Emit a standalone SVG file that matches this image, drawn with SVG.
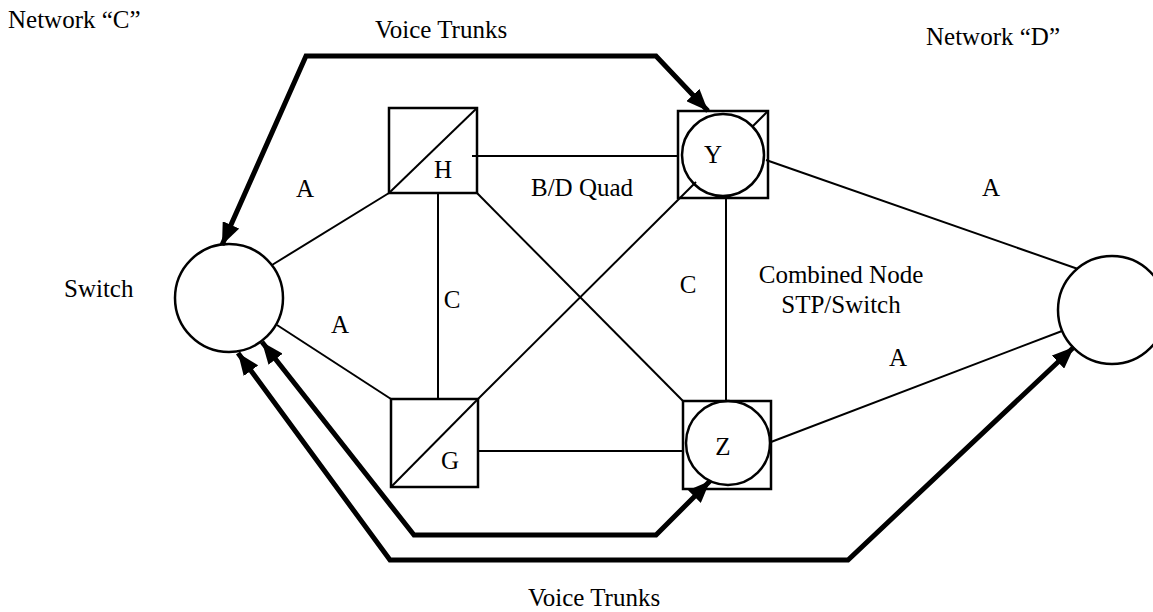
<svg xmlns="http://www.w3.org/2000/svg" width="1153" height="612" viewBox="0 0 1153 612">
<style>
  .bg { fill: #ffffff; }
  .node { fill: none; stroke: #000; stroke-width: 2.5; }
  .thin { fill: none; stroke: #000; stroke-width: 2; }
  .trunk { fill: none; stroke: #000; stroke-width: 5; stroke-linejoin: miter; }
  .lbl { font-family: "Liberation Serif", "Times New Roman", serif; font-size: 25px; fill: #000; }
  .mid { text-anchor: middle; }
</style>
<defs>
  <marker id="arrow" viewBox="0 0 22 18" refX="22" refY="9" markerWidth="22" markerHeight="18" markerUnits="userSpaceOnUse" orient="auto-start-reverse">
    <path d="M0,0 L22,9 L0,18 Z" fill="#000"/>
  </marker>
</defs>
<rect class="bg" x="0" y="0" width="1153" height="612"/>

<g id="connectors">
  <line class="thin" x1="272" y1="265" x2="389" y2="193"/>
  <line class="thin" x1="277" y1="325" x2="391" y2="399"/>
  <line class="thin" x1="438" y1="193" x2="438" y2="399"/>
  <line class="thin" x1="472" y1="156" x2="678" y2="156"/>
  <line class="thin" x1="477" y1="193" x2="683" y2="401"/>
  <line class="thin" x1="478" y1="399" x2="696" y2="182"/>
  <line class="thin" x1="768" y1="111" x2="752" y2="127"/>
  <line class="thin" x1="478" y1="451" x2="683" y2="451"/>
  <line class="thin" x1="726" y1="198" x2="726" y2="401"/>
  <line class="thin" x1="766" y1="160" x2="1078" y2="269"/>
  <line class="thin" x1="771" y1="442" x2="1062" y2="331"/>
  <path class="trunk" d="M708,111 L656,56 L306,56 L222,245" marker-start="url(#arrow)" marker-end="url(#arrow)"/>
  <path class="trunk" d="M262,342 L414,535 L656,535 L710,481" marker-start="url(#arrow)" marker-end="url(#arrow)"/>
  <path class="trunk" d="M238,353 L390,560 L848,560 L1074,347" marker-start="url(#arrow)" marker-end="url(#arrow)"/>
</g>

<g id="switch-c">
  <circle class="node" cx="229" cy="298" r="54"/>
</g>
<g id="switch-d">
  <circle class="node" cx="1112" cy="310" r="54"/>
</g>
<g id="node-h">
  <rect class="node" x="389" y="108" width="88" height="85"/>
  <line class="thin" x1="389" y1="193" x2="477" y2="108"/>
  <text class="lbl mid" x="443" y="178">H</text>
</g>
<g id="node-g">
  <rect class="node" x="391" y="399" width="87" height="88"/>
  <line class="thin" x1="391" y1="487" x2="478" y2="399"/>
  <text class="lbl mid" x="450" y="469">G</text>
</g>
<g id="node-y">
  <rect class="node" x="678" y="111" width="90" height="87"/>
  <circle class="node" cx="723" cy="155" r="41"/>
  <text class="lbl mid" x="713" y="163">Y</text>
</g>
<g id="node-z">
  <rect class="node" x="683" y="401" width="88" height="88"/>
  <circle class="node" cx="728" cy="443" r="42"/>
  <text class="lbl mid" x="723" y="455">Z</text>
</g>

<g id="labels">
  <text class="lbl" x="8" y="28">Network “C”</text>
  <text class="lbl mid" x="441" y="38">Voice Trunks</text>
  <text class="lbl" x="926" y="45">Network “D”</text>
  <text class="lbl mid" x="305" y="197">A</text>
  <text class="lbl mid" x="340" y="333">A</text>
  <text class="lbl" x="64" y="297">Switch</text>
  <text class="lbl mid" x="452" y="308">C</text>
  <text class="lbl mid" x="582" y="196">B/D Quad</text>
  <text class="lbl mid" x="688" y="293">C</text>
  <text class="lbl mid" x="841" y="283">Combined Node</text>
  <text class="lbl mid" x="841" y="313">STP/Switch</text>
  <text class="lbl mid" x="991" y="196">A</text>
  <text class="lbl mid" x="898" y="366">A</text>
  <text class="lbl mid" x="594" y="606">Voice Trunks</text>
</g>
</svg>
